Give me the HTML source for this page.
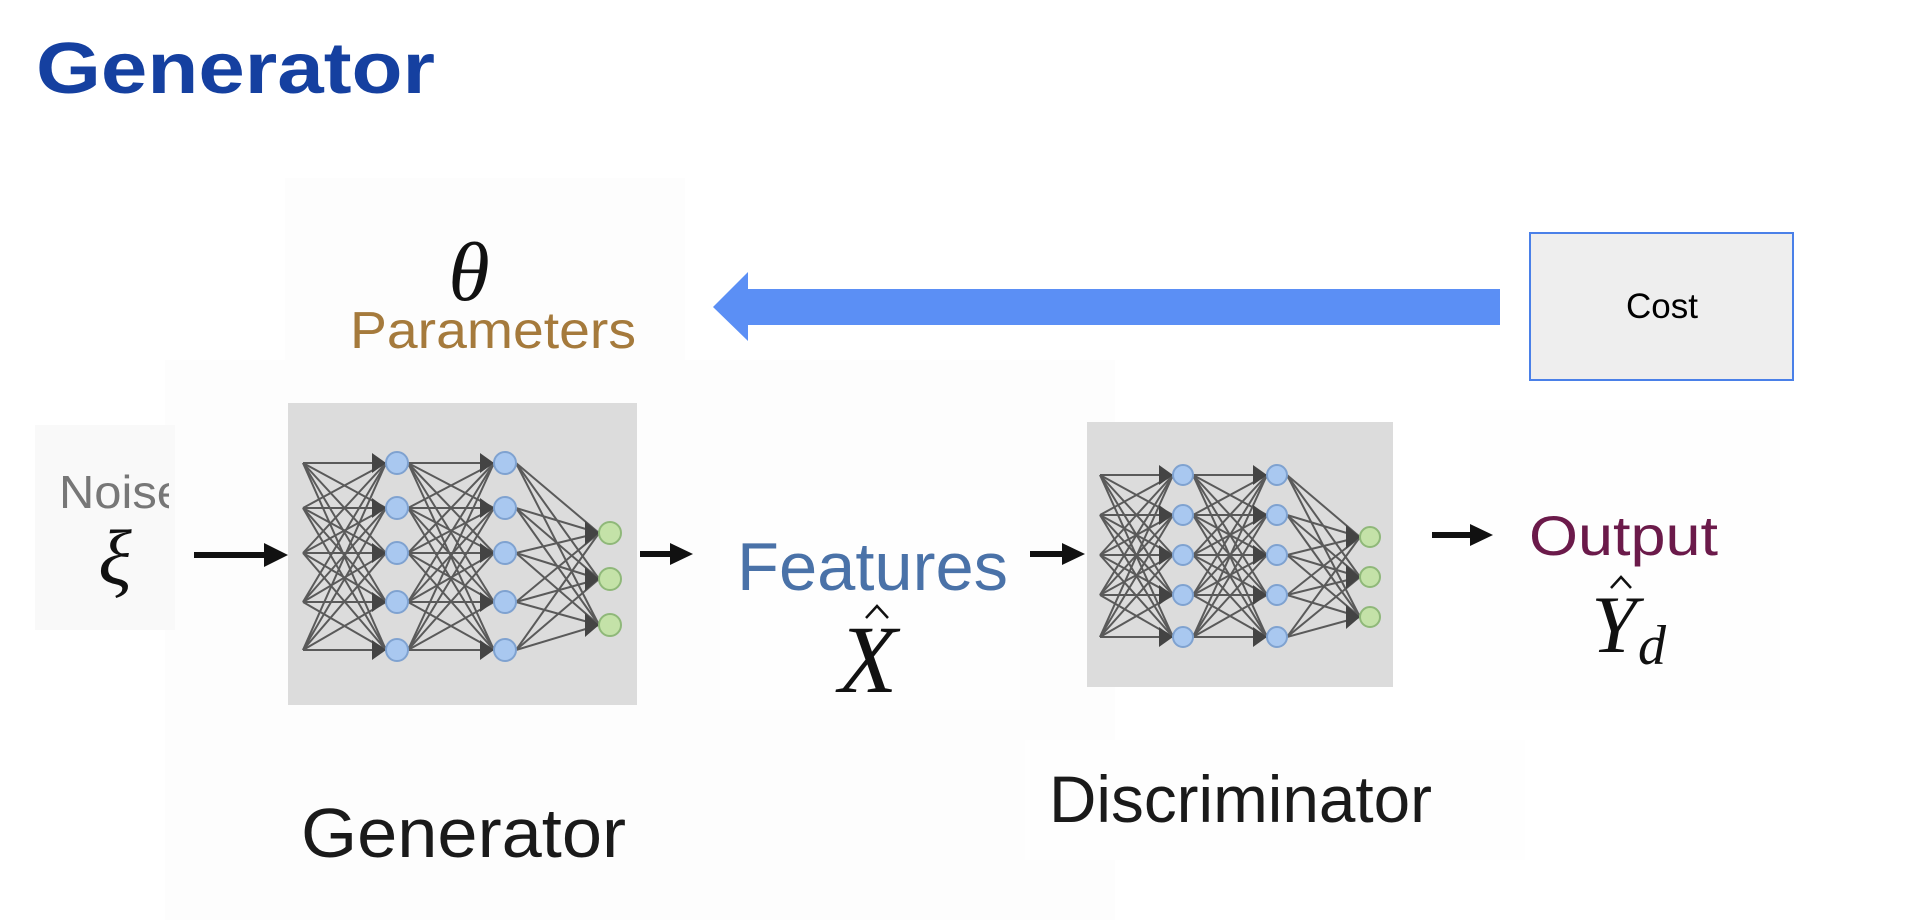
<!DOCTYPE html>
<html><head><meta charset="utf-8"><style>
html,body{margin:0;padding:0;background:#fff;width:1922px;height:922px;overflow:hidden}
svg{display:block}
</style></head><body>
<svg id="s" width="1922" height="922" viewBox="0 0 1922 922" xmlns="http://www.w3.org/2000/svg">
<rect x="285" y="178" width="400" height="560" fill="#fdfdfd"/>
<rect x="165" y="360" width="950" height="560" fill="#fdfdfd"/>
<rect x="35" y="425" width="140" height="205" fill="#f9f9f9"/>
<rect x="720" y="490" width="300" height="220" fill="#fefefe"/>
<rect x="1025" y="740" width="500" height="120" fill="#fefefe"/>
<rect x="1470" y="410" width="310" height="300" fill="#fefefe"/>

<text x="36" y="93" font-family="Liberation Sans, sans-serif" font-weight="bold" font-size="72" fill="#1540a0" textLength="399" lengthAdjust="spacingAndGlyphs">Generator</text>

<text x="469" y="300" text-anchor="middle" font-family="Liberation Serif, serif" font-style="italic" font-size="84" fill="#111">θ</text>
<text x="350" y="348" font-family="Liberation Sans, sans-serif" font-size="52" fill="#a57a3c" textLength="286" lengthAdjust="spacingAndGlyphs">Parameters</text>

<polygon points="713,307 748,272 748,289 1500,289 1500,325 748,325 748,341" fill="#5b8ff5"/>

<rect x="1530" y="233" width="263" height="147" fill="#eeeeee" stroke="#4a80e8" stroke-width="2"/>
<text x="1662" y="318" text-anchor="middle" font-family="Liberation Sans, sans-serif" font-size="35" fill="#000">Cost</text>

<svg x="0" y="0" width="169" height="922"><text x="59" y="508" font-family="Liberation Sans, sans-serif" font-size="46" fill="#777" textLength="125" lengthAdjust="spacingAndGlyphs">Noise</text></svg>
<text x="115" y="584" text-anchor="middle" font-family="Liberation Serif, serif" font-style="italic" font-size="78" fill="#111">ξ</text>

<rect x="288" y="403" width="349" height="302" fill="#dcdcdc"/>
<g id="gnet"></g>
<rect x="1087" y="422" width="306" height="265" fill="#dcdcdc"/>
<g id="dnet"></g>

<g stroke="#111" stroke-width="6">
<line x1="194" y1="555" x2="270" y2="555"/>
<line x1="640" y1="554" x2="676" y2="554"/>
<line x1="1030" y1="554" x2="1068" y2="554"/>
<line x1="1432" y1="535" x2="1476" y2="535"/>
</g>
<g fill="#111">
<polygon points="264,543 288,555 264,567"/>
<polygon points="670,543 693,554 670,565"/>
<polygon points="1062,543 1085,554 1062,565"/>
<polygon points="1470,524 1493,535 1470,546"/>
</g>

<text x="737" y="590" font-family="Liberation Sans, sans-serif" font-size="68" fill="#4a72a8" textLength="271" lengthAdjust="spacingAndGlyphs">Features</text>
<text x="868" y="692" text-anchor="middle" font-family="Liberation Serif, serif" font-style="italic" font-size="96" fill="#111">X</text>
<polyline points="866,618 877,606 888,618" fill="none" stroke="#111" stroke-width="2.5"/>

<text x="1529" y="555" font-family="Liberation Sans, sans-serif" font-size="56" fill="#6b1a4a" textLength="189" lengthAdjust="spacingAndGlyphs">Output</text>
<text x="1614" y="652" text-anchor="middle" font-family="Liberation Serif, serif" font-style="italic" font-size="82" fill="#111">Y</text>
<polyline points="1611,588 1621,577 1631,588" fill="none" stroke="#111" stroke-width="2.5"/>
<text x="1652" y="664" text-anchor="middle" font-family="Liberation Serif, serif" font-style="italic" font-size="56" fill="#111">d</text>

<text x="301" y="857" font-family="Liberation Sans, sans-serif" font-size="70" fill="#1a1a1a" textLength="325" lengthAdjust="spacingAndGlyphs">Generator</text>
<text x="1049" y="822" font-family="Liberation Sans, sans-serif" font-size="66" fill="#1a1a1a" textLength="383" lengthAdjust="spacingAndGlyphs">Discriminator</text>
</svg>
<script>
(function(){
function net(id,xi,xh1,xh2,xo,ys,yo,r){
 var g=document.getElementById(id),h="";
 function L(a,b,c,d){h+='<line x1="'+a+'" y1="'+b+'" x2="'+c+'" y2="'+d+'" stroke="#5a5a5a" stroke-width="2"/>';}
 ys.forEach(function(a){ys.forEach(function(b){L(xi,a,xh1-r,b);});});
 ys.forEach(function(a){ys.forEach(function(b){L(xh1+r,a,xh2-r,b);});});
 ys.forEach(function(a){yo.forEach(function(b){L(xh2+r,a,xo-r,b);});});
 ys.forEach(function(y){h+='<polygon points="'+(xh1-r-14)+','+(y-10)+' '+(xh1-r)+','+y+' '+(xh1-r-14)+','+(y+10)+'" fill="#444"/>';
  h+='<polygon points="'+(xh2-r-14)+','+(y-10)+' '+(xh2-r)+','+y+' '+(xh2-r-14)+','+(y+10)+'" fill="#444"/>';});
 yo.forEach(function(y){h+='<polygon points="'+(xo-r-14)+','+(y-12)+' '+(xo-r)+','+y+' '+(xo-r-14)+','+(y+12)+'" fill="#444"/>';});
 ys.forEach(function(y){h+='<circle cx="'+xh1+'" cy="'+y+'" r="'+r+'" fill="#a9c8f0" stroke="#7fa2d0" stroke-width="2"/>';
  h+='<circle cx="'+xh2+'" cy="'+y+'" r="'+r+'" fill="#a9c8f0" stroke="#7fa2d0" stroke-width="2"/>';});
 yo.forEach(function(y){h+='<circle cx="'+xo+'" cy="'+y+'" r="'+r+'" fill="#c4e2a8" stroke="#8fb879" stroke-width="2"/>';});
 g.innerHTML=h;
}
net("gnet",303,397,505,610,[463,508,553,602,650],[533,579,625],11);
net("dnet",1100,1183,1277,1370,[475,515,555,595,637],[537,577,617],10);
})();
</script>
</body></html>
